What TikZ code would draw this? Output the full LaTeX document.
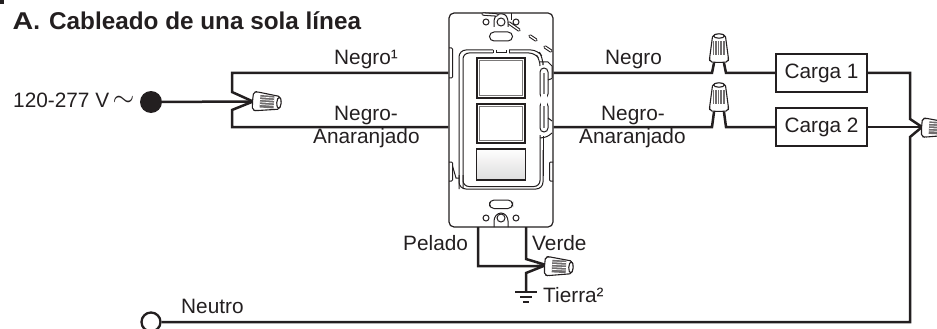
\documentclass[tikz,border=0pt]{standalone}
\usepackage{fontspec}
\setmainfont{Liberation Sans}
\definecolor{ink}{HTML}{231F20}
\tikzset{
  x=1pt,y=-1pt,
  wire/.style={draw=ink,line width=2.5pt,line join=miter},
  thin part/.style={draw=ink,line width=1pt},
  lab/.style={text=ink,font=\fontsize{20.8}{22}\selectfont,inner sep=0pt,anchor=base west},
  load/.style={draw=ink,line width=1.5pt,fill=white,minimum width=91pt,minimum height=38pt,inner sep=0pt,text=ink,font=\fontsize{20.8}{22}\selectfont},
  capsule/.style={line cap=round},
  pics/wirenut/.style={code={
    \draw[draw=ink,line width=1.1pt,fill=white,rounded corners=2pt] (0,-9)--(3,-9.5)--(27,-6.3)--(28,0)--(27,6.3)--(3,9.5)--(0,9)--(-0.5,0)--cycle;
    \fill[ink!65] (7,-6.5) rectangle (21,6);
    \foreach \yy in {-4.5,-2,0.5,3}{\draw[white,line width=.7pt] (7,\yy)--(21,\yy);}
    \draw[draw=ink,line width=1.1pt,fill=white] (26,0) ellipse (2.2 and 5.5);
  }}
}
\newcommand{\breakdash}[2]{%
  \draw[ink,line width=3.4pt,capsule] #1--#2;
  \draw[white,line width=1.3pt,capsule] #1--#2;}
\begin{document}
\begin{tikzpicture}
\useasboundingbox (0,0) rectangle (937,329);
\clip (0,0) rectangle (937,329);
\fill[ink] (0,0) rectangle (4,4);
% title
\node[lab,font=\fontsize{24.3}{26}\selectfont\bfseries] (title) at (12.5,30) {\scalebox{1.18}[1]{A}. Cableado de una sola línea};
% source
\node[lab] (vlab) at (13,107.5) {120-277 V\,\raisebox{1pt}{\scalebox{1.35}{$\sim$}}};
\node[circle,fill=ink,minimum size=22pt,inner sep=0] (hot) at (151,102) {};
\node[circle,draw=ink,line width=2.3pt,fill=white,minimum size=19pt,inner sep=0] (neutral) at (151,322) {};
% loads
\node[load] (load1) at (821.5,73) {Carga 1};
\node[load] (load2) at (821.5,127) {Carga 2};
% plate
\node[draw=ink,line width=1.2pt,rounded corners=5pt,fill=white,minimum width=104pt,minimum height=214pt,inner sep=0] (plate) at (501,120) {};
% nut ports
\coordinate (nL) at (253,101.5);
\coordinate (n1a) at (714,63); \coordinate (n1b) at (724,63);
\coordinate (n2a) at (714,112); \coordinate (n2b) at (724,112);
\coordinate (nR) at (922,127);
\coordinate (nG) at (546,265);
% wires
\draw[wire] (hot) -- (nL);
\draw[wire] (plate.west |- 0,73) -- (232,73) -- (232,92) -- (nL);
\draw[wire] (plate.west |- 0,127) -- (232,127) -- (232,110) -- (nL);
\draw[wire] (plate.east |- 0,73) -- (712,73) -- (n1a);
\draw[wire] (n1b) -- (726,73) -- (load1.west);
\draw[wire] (plate.east |- 0,127) -- (712,127) -- (n2a);
\draw[wire] (n2b) -- (726,127) -- (load2.west);
\draw[wire] (load1.east) -- (910,73) -- (910,119) -- (nR);
\draw[wire] (load2.east) -- (nR);
\draw[wire] (nR) -- (910,137) -- (910,322) -- (neutral);
\draw[wire] (478,227) -- (478,266) -- (537,266) -- (nG);
\draw[wire] (526,227) -- (526,259) -- (nG);
\draw[wire] (nG) -- (526,273) -- (526,292) coordinate (gnd);
\draw[wire] (515,292) -- (537,292);
\draw[wire] (520,297) -- (532,297);
\draw[wire] (523,302) -- (529,302);
% nuts
\pic at (253,101) [rotate=-4] {wirenut};
\pic at (719,62) [rotate=90] {wirenut};
\pic at (719,111) [rotate=90] {wirenut};
\pic at (922,127.5) [rotate=-3] {wirenut};
\pic at (545,266) [rotate=-3] {wirenut};
% plate details: frame
\draw[thin part,rounded corners=7pt] (459,189) -- (459,50) -- (493,50);
\draw[thin part,rounded corners=6pt] (463,188) -- (463,53) -- (493,53);
\draw[thin part] (493,50) -- (493,53) (496,50) -- (496,53) -- (506,53) -- (506,50) (509,50) -- (509,53);
\draw[thin part,rounded corners=7pt] (509,50) -- (538,50) -- (543,58) -- (543,62);
\draw[thin part,rounded corners=6pt] (509,53) -- (535,53) -- (540,60) -- (540,66);
\draw[thin part,rounded corners=7pt] (459,175) -- (459,189) -- (543,189) -- (543,150);
\draw[thin part,rounded corners=6pt] (463,175) -- (463,186.5) -- (540,186.5) -- (540,135);
\draw[thin part] (543,136) -- (543,176);
% side tabs
\draw[thin part,rounded corners=1pt] (449,48) -- (452.5,48) -- (452.5,78) -- (449,78);
\draw[thin part,rounded corners=1pt] (449,162) -- (452.5,162) -- (452.5,181) -- (449,181);
\draw[thin part] (452.5,166) -- (456,178) -- (459,178);
\draw[thin part,rounded corners=1pt] (553,162) -- (549.5,162) -- (549.5,181) -- (553,181);
% side switch capsules
\draw[thin part,rounded corners=4pt,fill=white] (540,68) rectangle (548,98);
\draw[thin part,rounded corners=4pt,fill=white] (540,102) rectangle (548,132);
\fill[white] (541,95) rectangle (547,105);
\fill[ink!55] (543.2,73) rectangle (545,94);
\fill[ink!55] (543.2,106) rectangle (545,128);
\draw[thin part] (540,62) -- (548,62) -- (552,66) -- (552,78);
\draw[thin part] (548,80) -- (552,78.5) (548,118) -- (552,121);
\draw[thin part,rounded corners=3pt] (540,138) -- (547,137) -- (552,133);
% top and bottom hardware
\draw[thin part,rounded corners=2.5pt] (494,27) -- (494,19) -- (497,14) -- (505,14) -- (508,19) -- (508,27);
\draw[thin part] (486,22) circle (3);
\draw[thin part] (501,22) circle (4);
\draw[thin part] (516,22) circle (3);
\draw[thin part] (511,13) -- (511,20);
\draw[thin part,rounded corners=4.5pt] (489.5,32) rectangle (512.5,41);
\breakdash{(483,14)}{(497,15)}
\breakdash{(509,23)}{(519,30)}
\breakdash{(530,36)}{(536,40)}
\breakdash{(545,47)}{(551,51)}
\draw[thin part,rounded corners=4.5pt] (489.5,200) rectangle (512.5,208.5);
\draw[thin part] (486,218) circle (3);
\draw[thin part] (501,218) circle (4);
\draw[thin part] (516,218) circle (3);
\draw[thin part,rounded corners=3pt] (494,227) -- (494,218) -- (498,213) -- (504,213) -- (508,218) -- (508,227);
% buttons
\draw[draw=ink,line width=2.8pt,fill=white] (477,58) rectangle (525,98);
\draw[draw=ink!60,line width=.8pt] (479.5,60.5) rectangle (522.5,95.5);
\draw[draw=ink,line width=2.8pt,fill=white] (477,104) rectangle (525,143);
\draw[draw=ink!60,line width=.8pt] (479.5,106.5) rectangle (522.5,140.5);
\shade[top color=white,bottom color=ink!15,rounded corners=1pt] (477,148) rectangle (525,180);
\draw[draw=ink,line width=1.6pt] (476.5,181) -- (476.5,149) -- (525.5,149) -- (525.5,181);
\draw[draw=ink,line width=2.8pt,rounded corners=1pt] (476.5,180) -- (525.5,180);
% labels
\node[lab] (l1) at (334,65) {Negro¹};
\node[lab] (l2) at (334,121) {Negro-};
\node[lab] (l3) at (313,143) {Anaranjado};
\node[lab] (r1) at (605,65) {Negro};
\node[lab] (r2) at (601,121) {Negro-};
\node[lab] (r3) at (579,143) {Anaranjado};
\node[lab] (pel) at (403,250) {Pelado};
\node[lab] (ver) at (532,250) {Verde};
\node[lab] (tie) at (543,302) {Tierra²};
\node[lab] (neu) at (181,313) {Neutro};
\end{tikzpicture}
\end{document}
